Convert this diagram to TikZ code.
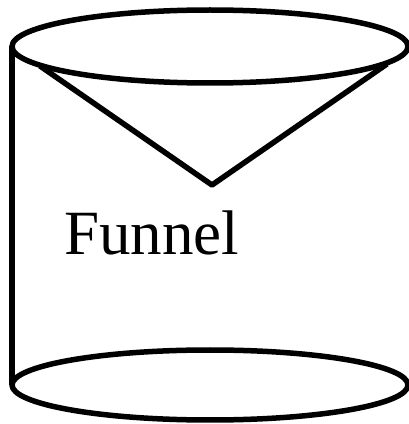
\documentclass[tikz,border=0pt]{standalone}
\usepackage{fontspec}
\setmainfont{Liberation Serif}
\begin{document}
\begin{tikzpicture}[x=1pt,y=1pt,
  outline/.style={draw=black,line width=5.5pt,line join=round}]
\useasboundingbox (0,0) rectangle (408,424);
\draw[outline] (12,377.5) -- (12,39);
\draw[outline] (210,377.5) ellipse [x radius=198, y radius=36.5];
\draw[outline] (210,39) ellipse [x radius=198, y radius=35];
\draw[outline] (40,358) -- (212,239) -- (387,360);
\node[anchor=base west,inner sep=0pt,font=\fontsize{63}{63}\selectfont] (label) at (64,169) {Funnel};
\end{tikzpicture}
\end{document}
